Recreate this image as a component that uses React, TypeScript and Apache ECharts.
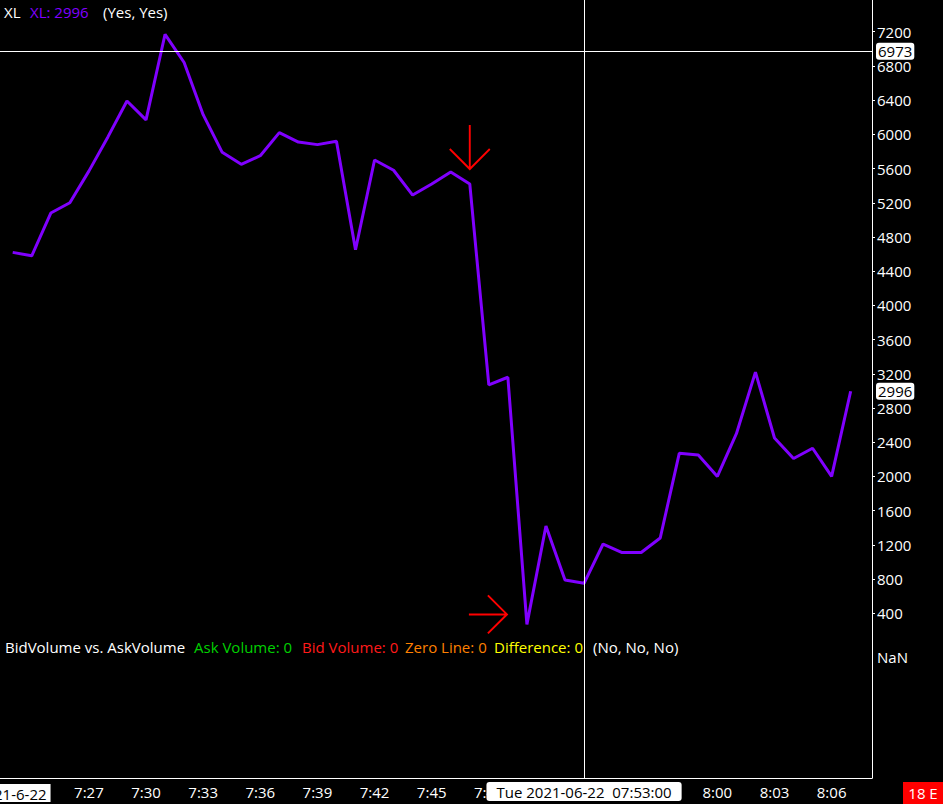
import React, { useEffect, useRef } from 'react';
import * as echarts from 'echarts';

const times = [
  '7:23', '7:24', '7:25', '7:26', '7:27', '7:28', '7:29', '7:30', '7:31', '7:32',
  '7:33', '7:34', '7:35', '7:36', '7:37', '7:38', '7:39', '7:40', '7:41', '7:42',
  '7:43', '7:44', '7:45', '7:46', '7:47', '7:48', '7:49', '7:50', '7:51', '7:52',
  '7:53', '7:54', '7:55', '7:56', '7:57', '7:58', '7:59', '8:00', '8:01', '8:02',
  '8:03', '8:04', '8:05', '8:06', '8:07',
];
const values = [
  4620, 4580, 5080, 5200, 5570, 5970, 6390, 6170, 7170, 6840,
  6230, 5790, 5650, 5750, 6020, 5910, 5880, 5920, 4650, 5700,
  5580, 5290, 5420, 5560, 5420, 3070, 3160, 270, 1420, 790,
  750, 1210, 1110, 1110, 1280, 2270, 2250, 2000, 2500, 3220,
  2450, 2210, 2330, 2000, 2996,
];
const yTickValues = [400, 800, 1200, 1600, 2000, 2400, 2800, 3200, 3600, 4000, 4400, 4800, 5200, 5600, 6000, 6400, 6800, 7200];
// tick labels visible in the reference (7:51-7:57 are hidden under the crosshair time box)
const xTickLabels = ['7:27', '7:30', '7:33', '7:36', '7:39', '7:42', '7:45', '7:48', '8:00', '8:03', '8:06'];
const dateLabel = '2021-6-22';
const crosshairTime = '7:53';
const crosshairTimeText = 'Tue 2021-06-22  07:53:00';
const crosshairValue = 6973;
const lastValue = 2996;
const downArrowTime = '7:47';
const rightArrowTime = '7:50';

const FONT = "'Open Sans', 'Noto Sans', sans-serif";

const toMin = (t: string) => {
  const [h, m] = t.split(':').map(Number);
  return h * 60 + m - 420;
};
const fmtMin = (v: number) => {
  const total = Math.round(v) + 420;
  return `${Math.floor(total / 60)}:${String(total % 60).padStart(2, '0')}`;
};

export default function App() {
  const ref = useRef<HTMLDivElement>(null);
  useEffect(() => {
    if (!ref.current) return;
    const chart = echarts.init(ref.current, null, { renderer: 'svg' });
    const firstMin = toMin(times[0]);
    const xCustom = [firstMin, ...xTickLabels.map(toMin)];
    const seriesData = times.map((t, i) => [toMin(t), values[i]]);
    const downIdx = times.indexOf(downArrowTime);
    const rightIdx = times.indexOf(rightArrowTime);

    const text = (x: number, y: number, t: string, fill: string, size = 15) => ({
      type: 'text',
      x,
      y,
      z: 10,
      style: { text: t, fill, fontSize: size, fontFamily: FONT, verticalAlign: 'middle', align: 'left' },
    });

    chart.setOption({
      animation: false,
      backgroundColor: '#000',
      grid: { left: 0, right: 71, top: 0, bottom: 26, containLabel: false, outerBoundsMode: 'none' },
      xAxis: {
        type: 'value',
        min: 22.333,
        max: 68.12,
        axisLine: { show: true, onZero: false, lineStyle: { color: '#fff', width: 1 } },
        axisTick: { show: false },
        splitLine: { show: false },
        axisLabel: {
          customValues: xCustom,
          color: '#fff',
          fontSize: 15,
          fontFamily: FONT,
          margin: 6,
          hideOverlap: false,
          formatter: (v: number) => (Math.round(v) === firstMin ? `{d|${dateLabel}}` : fmtMin(v)),
          rich: {
            d: { backgroundColor: '#fff', color: '#000', fontSize: 15, fontFamily: FONT, padding: [2, 4, 1, 2] },
          },
        },
        axisPointer: {
          show: true,
          status: 'show',
          value: toMin(crosshairTime),
          snap: false,
          lineStyle: { color: '#fff', width: 1, type: 'solid' },
          label: {
            show: true,
            formatter: () => crosshairTimeText,
            backgroundColor: '#fff',
            color: '#000',
            fontSize: 15,
            fontFamily: FONT,
            padding: [2, 10, 2, 10],
            margin: 4,
          },
        },
      },
      yAxis: [
        {
          type: 'value',
          position: 'right',
          min: -1526,
          max: 7571,
          axisLine: { show: true, lineStyle: { color: '#fff', width: 1 } },
          axisTick: { show: true, length: 3, customValues: yTickValues, lineStyle: { color: '#fff' } },
          axisLabel: {
            customValues: yTickValues,
            color: '#fff',
            fontSize: 15,
            fontFamily: FONT,
            margin: 5,
            formatter: (v: number) => String(Math.round(v)),
          },
          splitLine: { show: false },
          axisPointer: {
            show: true,
            status: 'show',
            value: crosshairValue,
            snap: false,
            lineStyle: { color: '#fff', width: 1, type: 'solid' },
            label: {
              show: true,
              formatter: () => String(crosshairValue),
              backgroundColor: '#fff',
              color: '#000',
              fontSize: 15,
              fontFamily: FONT,
              padding: [1, 2, 1, 2],
              margin: 4,
            },
          },
        },
        {
          type: 'value',
          position: 'right',
          min: -1526,
          max: 7571,
          axisLine: { show: false },
          axisTick: { show: false },
          axisLabel: { show: false },
          splitLine: { show: false },
          axisPointer: {
            show: true,
            status: 'show',
            value: lastValue,
            snap: false,
            lineStyle: { color: '#fff', width: 0, opacity: 0 },
            label: {
              show: true,
              formatter: () => String(lastValue),
              backgroundColor: '#fff',
              color: '#000',
              fontSize: 15,
              fontFamily: FONT,
              padding: [1, 2, 1, 2],
              margin: 4,
            },
          },
        },
      ],
      series: [
        {
          type: 'line',
          data: seriesData,
          yAxisIndex: 0,
          symbol: 'none',
          clip: false,
          lineStyle: { color: '#8000ff', width: 3 },
          markPoint: {
            silent: true,
            label: { show: false },
            itemStyle: { color: 'rgba(0,0,0,0)', borderColor: '#ff0000', borderWidth: 2 },
            data: [
              {
                coord: [toMin(downArrowTime), values[downIdx]],
                symbol: 'path://M20,0L20,44M0,24L20,44L40,24',
                symbolSize: [40, 44],
                symbolOffset: [0, -37],
              },
              {
                coord: [toMin(rightArrowTime), values[rightIdx]],
                symbol: 'path://M0,19L38,19M19,0L38,19L19,38',
                symbolSize: [38, 38],
                symbolOffset: [-39, -10],
              },
            ],
          },
        },
      ],
      graphic: [
        text(4, 12, 'XL', '#ffffff'),
        text(30, 12, `XL: ${lastValue}`, '#8000ff'),
        text(103, 12, '(Yes, Yes)', '#ffffff'),
        text(5, 647, 'BidVolume vs. AskVolume', '#ffffff'),
        text(194, 647, 'Ask Volume: 0', '#00d000'),
        text(302, 647, 'Bid Volume: 0', '#ff1a1a'),
        text(405, 647, 'Zero Line: 0', '#ff8000'),
        text(494, 647, 'Difference: 0', '#ffff00'),
        text(593, 647, '(No, No, No)', '#ffffff'),
        text(877, 657, 'NaN', '#ffffff'),
        {
          type: 'rect',
          z: 10,
          shape: { x: 903, y: 782, width: 40, height: 22 },
          style: { fill: '#ff0000' },
        },
        {
          type: 'text',
          z: 11,
          x: 923,
          y: 793,
          style: { text: '18 E', fill: '#fff', fontSize: 15, fontFamily: FONT, align: 'center', verticalAlign: 'middle' },
        },
      ],
    });
    return () => chart.dispose();
  }, []);
  return <div ref={ref} style={{ position: 'fixed', left: 0, top: 0, width: 943, height: 804 }} />;
}
